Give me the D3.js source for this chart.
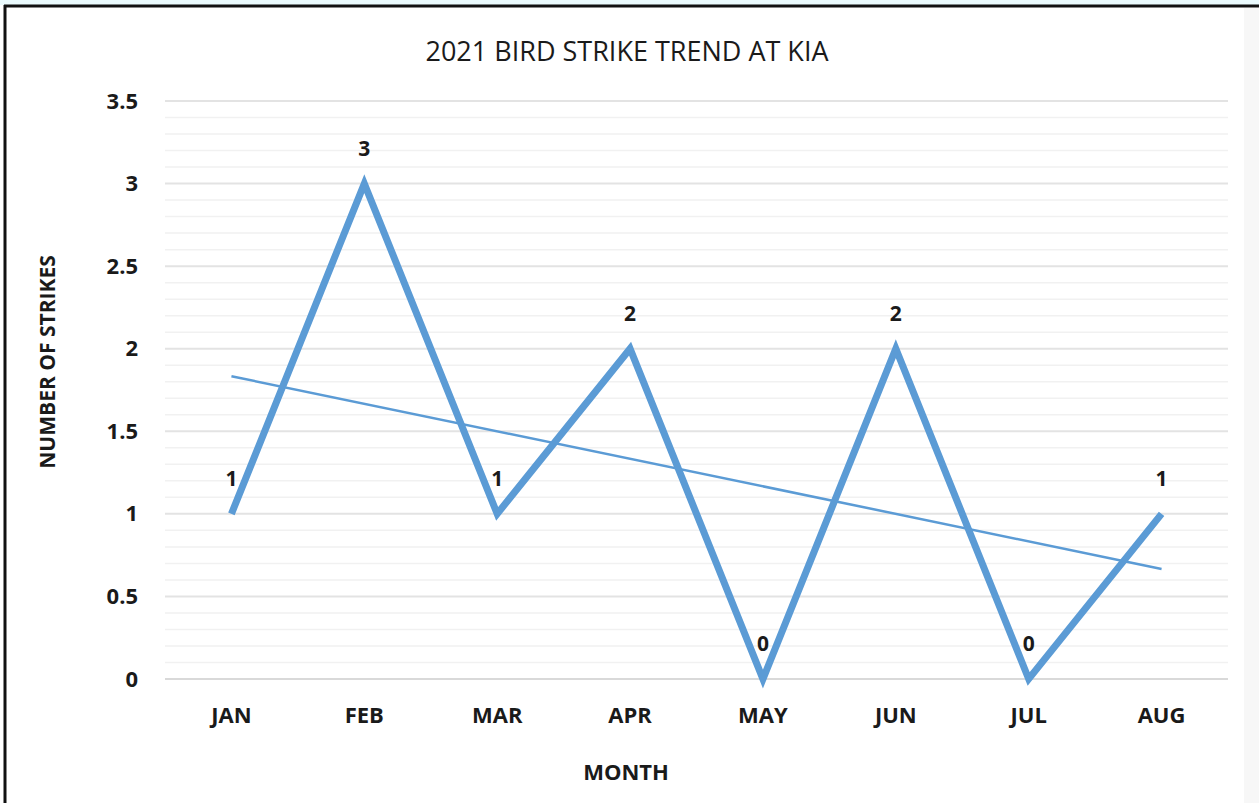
<!DOCTYPE html>
<html>
<head>
<meta charset="utf-8">
<script src="https://cdn.jsdelivr.net/npm/d3@7"></script>
<style>
  body { margin: 0; background: #fff; }
  text { font-family: "Open Sans", "DejaVu Sans", sans-serif; fill: #1a1a1a; }
</style>
</head>
<body>
<div id="chart"></div>
<script>
// values
var months = ["JAN", "FEB", "MAR", "APR", "MAY", "JUN", "JUL", "AUG"]
var strikes = [1, 3, 1, 2, 0, 2, 0, 1]
var yTicks = [0, 0.5, 1, 1.5, 2, 2.5, 3, 3.5]

const W = 1259, H = 803
const margin = {top: 101, right: 31, bottom: 124, left: 165}
const lineColor = "#5b9bd5"

var svg = d3.select("#chart").append("svg").attr("width", W).attr("height", H)

// background strip and frame
svg.append("rect").attr("x", 0).attr("y", 0).attr("width", W).attr("height", H).attr("fill", "#fff")
svg.append("rect").attr("x", 0).attr("y", 0).attr("width", W).attr("height", 5).attr("fill", "#eafafd")
svg.append("rect").attr("x", 1244).attr("y", 8).attr("width", 15).attr("height", H).attr("fill", "#f7f7f7")
svg.append("line").attr("x1", 4).attr("x2", W).attr("y1", 6).attr("y2", 6).attr("stroke", "#111").attr("stroke-width", 3)
svg.append("line").attr("x1", 5).attr("x2", 5).attr("y1", 5).attr("y2", H).attr("stroke", "#111").attr("stroke-width", 3)

var x = d3.scaleBand().domain(months).range([margin.left, W - margin.right])
var y = d3.scaleLinear().domain([0, 3.5]).range([H - margin.bottom, margin.top])
var cx = d => x(d) + x.bandwidth() / 2

// minor gridlines every 0.1
var minor = d3.range(0, 35).map(i => i / 10).filter(v => Math.round(v * 10) % 5 != 0)
svg.append("g").selectAll("line").data(minor).enter().append("line")
    .attr("x1", margin.left).attr("x2", W - margin.right)
    .attr("y1", d => y(d)).attr("y2", d => y(d))
    .attr("stroke", "#f1f1f1").attr("stroke-width", 1.5)

// major gridlines
svg.append("g").selectAll("line").data(yTicks).enter().append("line")
    .attr("x1", margin.left).attr("x2", W - margin.right)
    .attr("y1", d => y(d)).attr("y2", d => y(d))
    .attr("stroke", d => d == 0 ? "#d9d9d9" : "#e3e3e3").attr("stroke-width", 2)

// y axis labels
var yAxis = d3.axisLeft(y).tickValues(yTicks).tickSize(0).tickPadding(27).tickFormat(d => d)
var gy = svg.append("g").attr("transform", "translate(" + margin.left + ",0)").call(yAxis)
gy.select(".domain").remove()
gy.selectAll("text").style("font-size", "22px").style("font-weight", "bold").attr("fill", "#1a1a1a")

// x axis labels
var xAxis = d3.axisBottom(x).tickSize(0).tickPadding(28)
var gx = svg.append("g").attr("transform", "translate(0," + (H - margin.bottom) + ")").call(xAxis)
gx.select(".domain").remove()
gx.selectAll("text").style("font-size", "22px").style("font-weight", "bold").attr("fill", "#1a1a1a")

// linear trendline (least squares over month index)
var n = strikes.length
var mx = d3.mean(strikes, (d, i) => i), my = d3.mean(strikes)
var slope = d3.sum(strikes, (d, i) => (i - mx) * (d - my)) / d3.sum(strikes, (d, i) => (i - mx) * (i - mx))
var trend = [0, n - 1].map(i => [cx(months[i]), y(my + slope * (i - mx))])
svg.append("path").attr("d", d3.line()(trend)).attr("stroke", lineColor).attr("stroke-width", 2.5).attr("fill", "none")

// data line
var line = d3.line().x((d, i) => cx(months[i])).y(d => y(d))
svg.append("path").datum(strikes).attr("d", line)
    .attr("stroke", lineColor).attr("stroke-width", 7).attr("fill", "none")
    .attr("stroke-linejoin", "miter").attr("stroke-linecap", "butt")

// data labels
svg.append("g").selectAll("text").data(strikes).enter().append("text")
    .attr("x", (d, i) => cx(months[i])).attr("y", d => y(d) - 28)
    .attr("text-anchor", "middle").style("font-size", "21px").style("font-weight", "bold")
    .text(d => d)

// title
svg.append("text").attr("x", 627).attr("y", 61).attr("text-anchor", "middle")
    .style("font-size", "27px")
    .text("2021 BIRD STRIKE TREND AT KIA")

// axis titles
svg.append("text").attr("x", 626).attr("y", 780).attr("text-anchor", "middle")
    .style("font-size", "22px").style("font-weight", "bold").text("MONTH")
svg.append("text").attr("transform", "translate(55,362) rotate(-90)").attr("text-anchor", "middle")
    .style("font-size", "21px").style("font-weight", "bold").text("NUMBER OF STRIKES")
</script>
</body>
</html>
